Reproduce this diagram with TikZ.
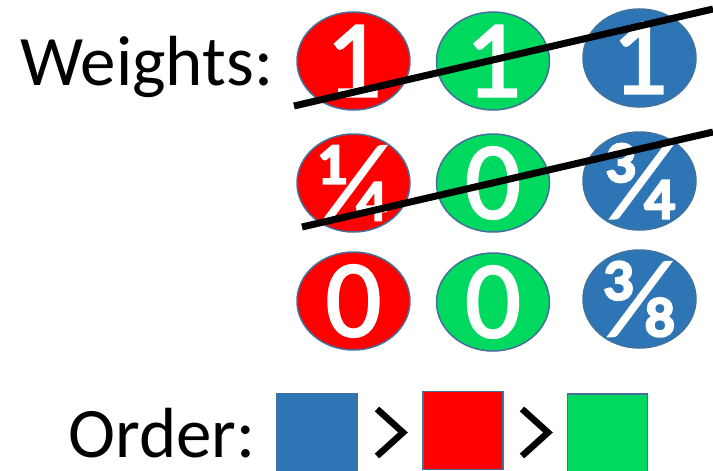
\documentclass[tikz,border=0pt]{standalone}
\usepackage{fontspec}
\setmainfont{Carlito}
\newfontfamily\numfont[FakeBold=2]{Carlito}
\usetikzlibrary{shapes.geometric}
\definecolor{wred}{HTML}{FF0000}
\definecolor{wgreen}{HTML}{00D95F}
\definecolor{wblue}{HTML}{2E75B6}
\definecolor{rim}{HTML}{41719C}
\tikzset{
  disc/.style={ellipse, draw=rim, line width=1.5pt, minimum width=113pt, minimum height=98pt, inner sep=0pt},
  digit/.style={text=white, font=\numfont\fontsize{110}{110}\selectfont, inner sep=0pt},
  swatch/.style={rectangle, draw=rim, line width=1.2pt, minimum width=80pt, minimum height=78pt, inner sep=0pt},
  caption/.style={font=\fontsize{71}{71}\selectfont, inner sep=0pt, anchor=base west},
  strike/.style={line width=7pt, black},
  chevron/.style={line width=6.5pt, black, miter limit=10},
}
\begin{document}
\begin{tikzpicture}[x=1pt, y=-1pt]
\useasboundingbox (0,0) rectangle (713,471);

\node[caption] (weights) at (20,85) {Weights:};
\node[caption] (order) at (68,457) {Order:};

% weight discs, one row per round
\node[disc, fill=wred]   (r1) at (353.5,61) {};
\node[disc, fill=wgreen] (g1) at (493,61) {};
\node[disc, fill=wblue]  (b1) at (639.5,58) {};
\node[disc, fill=wred]   (r2) at (353.5,183) {};
\node[disc, fill=wgreen] (g2) at (493,183) {};
\node[disc, fill=wblue]  (b2) at (639.5,181) {};
\node[disc, fill=wred]   (r3) at (353.5,301) {};
\node[disc, fill=wgreen] (g3) at (493,302) {};
\node[disc, fill=wblue]  (b3) at (639.5,299) {};

\node[digit] (r1t) at (r1.center) {1};
\node[digit] (g1t) at (g1.center) {1};
\node[digit] (b1t) at (b1.center) {1};
\node[digit] (r2t) at (r2.center) {¼};
\node[digit] (g2t) at (g2.center) {0};
\node[digit] (b2t) at (b2.center) {¾};
\node[digit] (r3t) at (r3.center) {0};
\node[digit] (g3t) at (g3.center) {0};
\node[digit] (b3t) at (b3.center) {⅜};

% strike-through lines over the first two rows
\coordinate (s1a) at (294,106);
\coordinate (s1b) at (713,9);
\coordinate (s2a) at (302,227);
\coordinate (s2b) at (713,132);
\draw[strike] (s1a) -- (s1b);
\draw[strike] (s2a) -- (s2b);

% colour order
\node[swatch, fill=wblue]  (qb) at (317,432.5) {};
\node[swatch, fill=wred]   (qr) at (463,430.5) {};
\node[swatch, fill=wgreen] (qg) at (607.5,433) {};
\draw[chevron] (377,409) -- (403,432.5) -- (377,456);
\draw[chevron] (522,409) -- (548,432.5) -- (522,456);
\end{tikzpicture}
\end{document}
